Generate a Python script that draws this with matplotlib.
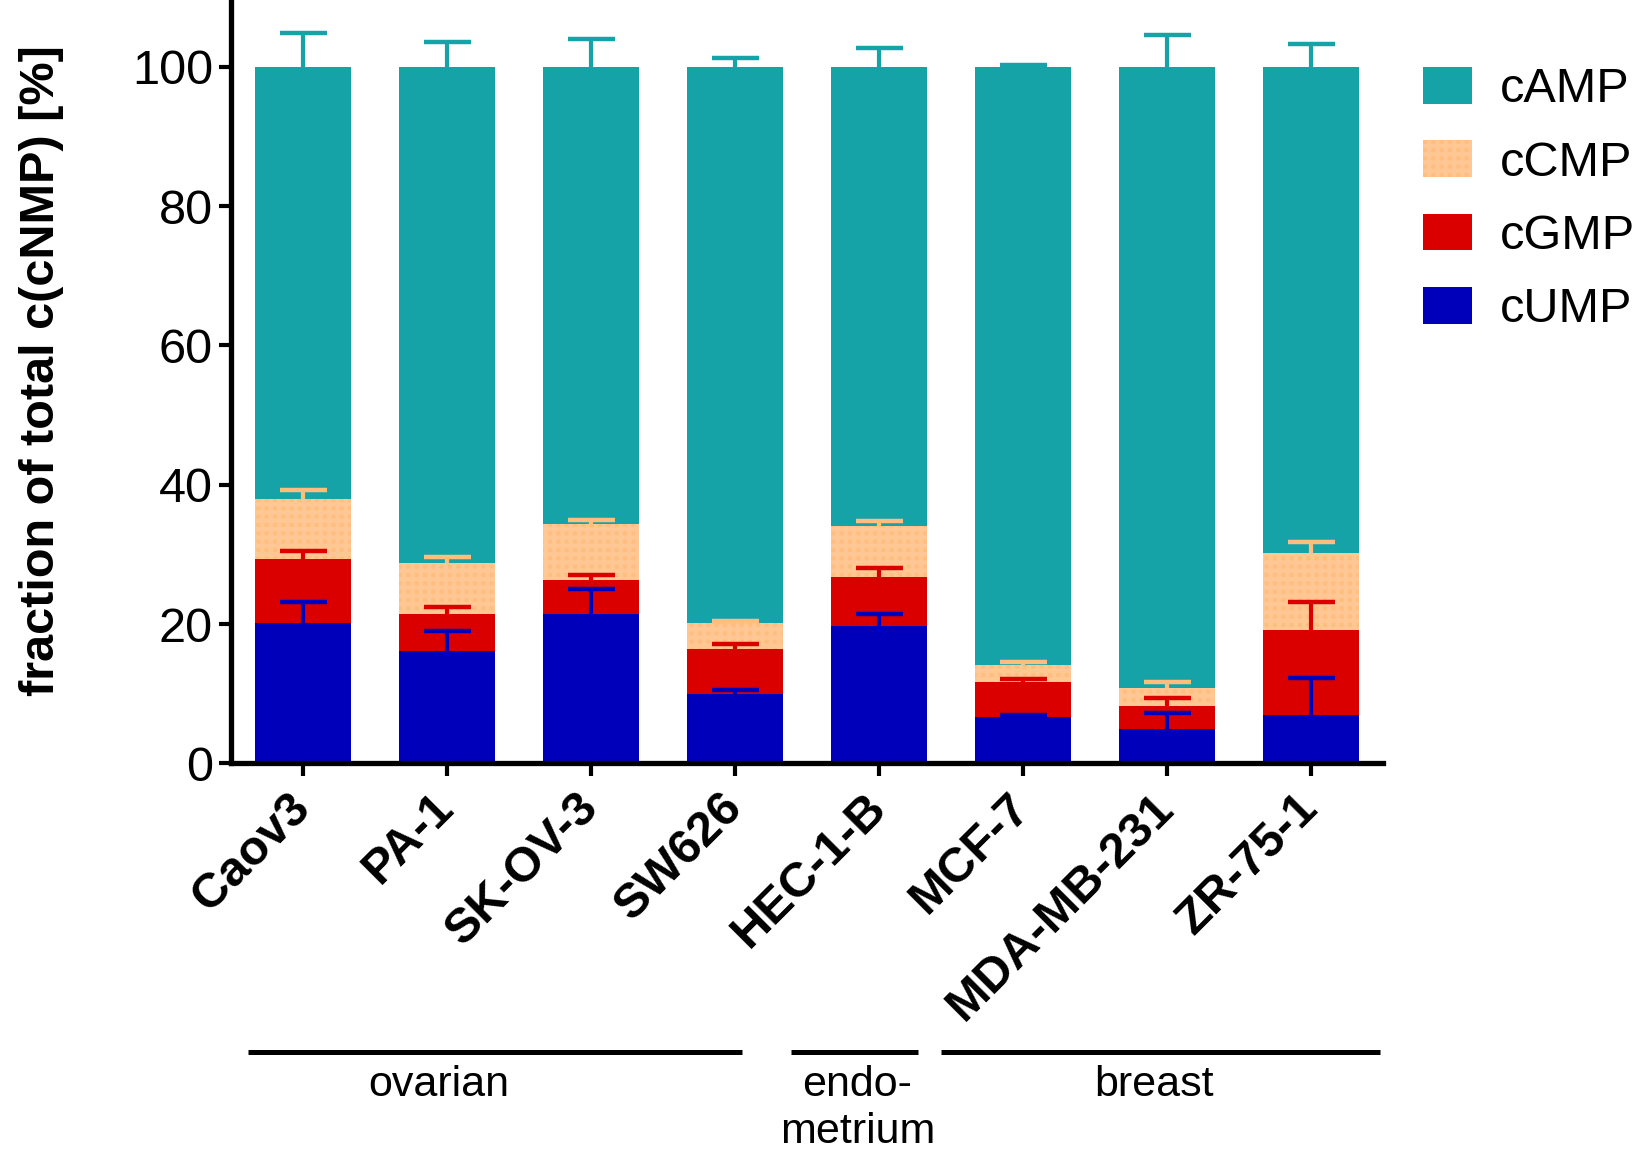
import numpy as np
import matplotlib
matplotlib.use('Agg')
import matplotlib.pyplot as plt
from matplotlib.patches import Patch

plt.rcParams['font.family'] = ['Liberation Sans', 'DejaVu Sans']
plt.rcParams['hatch.linewidth'] = 3.0

cell_lines = ['Caov3', 'PA-1', 'SK-OV-3', 'SW626', 'HEC-1-B', 'MCF-7', 'MDA-MB-231', 'ZR-75-1']

# segment heights (% of total cNMP), stacked bottom -> top
cUMP = [20.2, 16.1, 21.4, 9.9, 19.7, 6.6, 4.9, 7.0]
cGMP = [9.1, 5.4, 4.9, 6.5, 7.1, 5.1, 3.3, 12.1]
cCMP = [8.7, 7.2, 8.1, 3.8, 7.3, 2.4, 2.6, 11.1]
cAMP = [62.0, 71.3, 65.6, 79.8, 65.9, 85.9, 89.2, 69.8]

# upper error (SD)
cUMP_err = [3.0, 2.9, 3.6, 0.6, 1.8, 0.3, 2.3, 5.3]
cGMP_err = [1.2, 0.9, 0.8, 0.8, 1.2, 0.4, 1.2, 4.1]
cCMP_err = [1.2, 0.9, 0.6, 0.3, 0.7, 0.4, 0.9, 1.6]
cAMP_err = [4.9, 3.6, 4.0, 1.3, 2.7, 0.3, 4.6, 3.3]

groups = ['ovarian', 'endo-\nmetrium', 'breast']

c_amp = '#16A3A8'
c_cmp = '#FFBE7E'
c_cmp_light = '#FFC793'
c_gmp = '#DA0000'
c_ump = '#0000BB'

fig = plt.figure(figsize=(16.33, 11.61), dpi=100)
ax = fig.add_axes([0.1415, 0.3425, 0.7055, 0.6575])

x = np.arange(len(cell_lines))
w = 0.665
cap = 0.163

layers = [
    ('cUMP', cUMP, cUMP_err, c_ump, None),
    ('cGMP', cGMP, cGMP_err, c_gmp, None),
    ('cCMP', cCMP, cCMP_err, c_cmp, '++'),
    ('cAMP', cAMP, cAMP_err, c_amp, None),
]

bottom = np.zeros(len(x))
tops = []
for name, vals, err, col, hatch in layers:
    vals = np.array(vals)
    if hatch:
        ax.bar(x, vals, w, bottom=bottom, color=col, edgecolor=c_cmp_light,
               linewidth=0, hatch=hatch, zorder=2)
    else:
        ax.bar(x, vals, w, bottom=bottom, color=col, linewidth=0, zorder=2)
    bottom = bottom + vals
    tops.append((bottom.copy(), np.array(err), col))

# upper-only error bars in the colour of their segment
for top, err, col in tops:
    ax.vlines(x, top, top + err, color=col, lw=3, zorder=3)
    ax.hlines(top + err, x - cap, x + cap, color=col, lw=3.2, zorder=3)

ax.set_xlim(-0.5, 7.5)
ax.set_ylim(0, 109.6)
ax.set_yticks([0, 20, 40, 60, 80, 100])
ax.set_xticks(x)
ax.set_xticklabels(cell_lines, rotation=45, ha='right', va='center',
                   rotation_mode='anchor', fontsize=35, fontweight='bold')
ax.tick_params(axis='y', labelsize=35, width=3, length=9, pad=4)
ax.tick_params(axis='x', width=3, length=9, pad=18)
for s in ['top', 'right']:
    ax.spines[s].set_visible(False)
for s in ['left', 'bottom']:
    ax.spines[s].set_linewidth(3.8)

ax.set_ylabel('fraction of total c(cNMP) [%]', fontsize=35, fontweight='bold')
ax.yaxis.set_label_coords(-0.145, 0.515)

# tissue group brackets
tr = ax.get_xaxis_transform()
spans = [(-0.38, 3.05), (3.39, 4.27), (4.43, 7.48)]
label_x = [0.94, 3.85, 5.91]
for (a, b), lx, g in zip(spans, label_x, groups):
    ax.plot([a, b], [-0.378, -0.378], color='black', lw=3.6, transform=tr,
            clip_on=False, solid_capstyle='butt')
    ax.text(lx, -0.395, g, transform=tr, ha='center', va='top',
            fontsize=31, linespacing=1.22)

handles = [
    Patch(facecolor=c_amp, linewidth=0),
    Patch(facecolor=c_cmp, edgecolor=c_cmp_light, linewidth=0, hatch='++'),
    Patch(facecolor=c_gmp, linewidth=0),
    Patch(facecolor=c_ump, linewidth=0),
]
fig.legend(handles, ['cAMP', 'cCMP', 'cGMP', 'cUMP'], loc='upper left',
           bbox_to_anchor=(1423 / 1633, 1 - 67 / 1161), frameon=False,
           fontsize=35, handlelength=1.0, handleheight=0.78,
           handletextpad=0.58, labelspacing=0.58, borderpad=0, borderaxespad=0)

fig.savefig('out.png', dpi=100)
